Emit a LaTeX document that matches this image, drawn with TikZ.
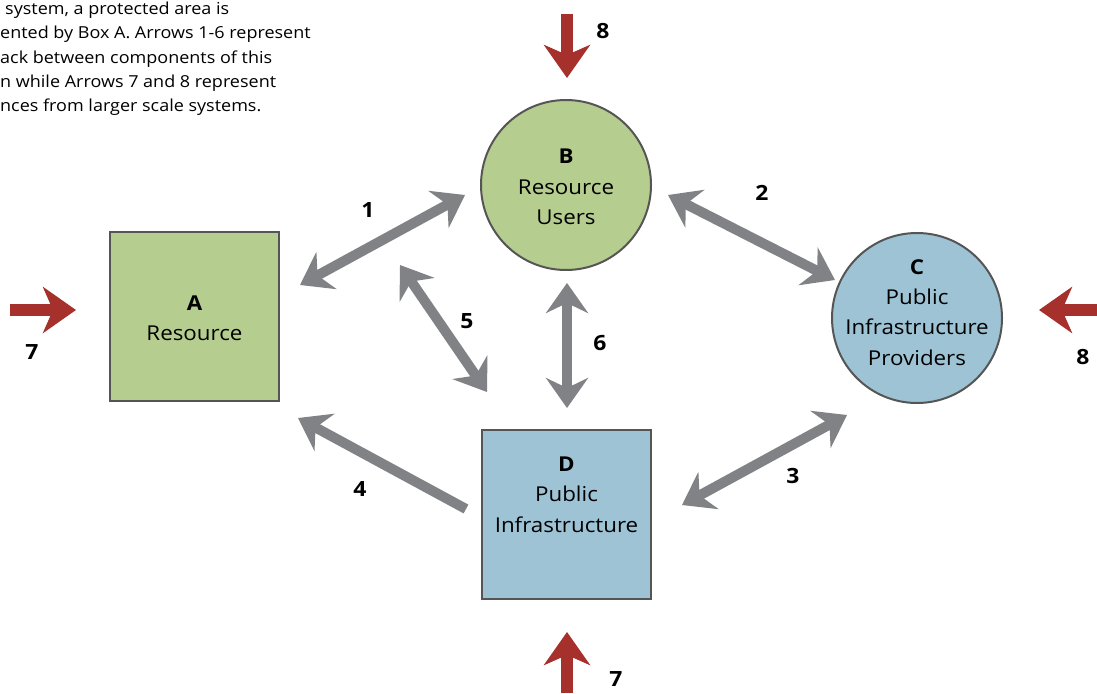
\documentclass[tikz,border=0pt]{standalone}
\usepackage{fontspec}
\setmainfont{Open Sans}[FakeStretch=1.09]
\usetikzlibrary{arrows.meta}
\definecolor{boxgreen}{RGB}{181,205,142}
\definecolor{boxblue}{RGB}{157,195,213}
\definecolor{edgegray}{RGB}{85,85,85}
\definecolor{arrgray}{RGB}{128,130,133}
\definecolor{arrred}{RGB}{166,48,44}
\tikzset{
  comp/.style={draw=edgegray, line width=2pt, inner sep=0pt},
  sqbox/.style={comp, rectangle, minimum width=169pt, minimum height=169pt},
  circbox/.style={comp, circle, minimum size=170pt},
  comptext/.style={align=center, inner sep=0pt, text=black,
    font=\fontsize{20.5}{30.3}\selectfont},
  link/.style={draw=arrgray, line width=10pt,
    -{Stealth[length=30pt,width=42pt,inset=10pt]}},
  dlink/.style={draw=arrgray, line width=10pt,
    {Stealth[length=30pt,width=42pt,inset=10pt]}-{Stealth[length=30pt,width=42pt,inset=10pt]}},
  ext/.style={draw=arrred, line width=12pt,
    -{Stealth[length=33pt,width=46pt,inset=10pt]}},
  num/.style={font=\fontsize{21}{24}\selectfont\bfseries, inner sep=0pt},
}
\begin{document}
\begin{tikzpicture}[x=1pt,y=-1pt]
\useasboundingbox (0,0) rectangle (1097,693);
% caption text (cropped)
\node[anchor=north west, align=left, inner sep=0pt,
  font=\fontsize{16.5}{24.4}\selectfont, text=black] (cap) at (0,1.5)
  {\hspace*{5pt}system, a protected area is\\
   ented by Box A. Arrows 1-6 represent\\
   ack between components of this\\
   n while Arrows 7 and 8 represent\\
   nces from larger scale systems.};
% components
\node[sqbox, fill=boxgreen] (A) at (194.5,316.5) {};
\node[circbox, fill=boxgreen] (B) at (566,185) {};
\node[circbox, fill=boxblue] (C) at (917,318) {};
\node[sqbox, fill=boxblue] (D) at (566.5,514.5) {};
\node[comptext] (At) at (194.5,318) {\textbf{A}\\Resource};
\node[comptext] (Bt) at (566,187) {\textbf{B}\\Resource\\Users};
\node[comptext] (Ct) at (917,312.5) {\textbf{C}\\Public\\Infrastructure\\Providers};
\node[comptext] (Dt) at (566.5,494.5) {\textbf{D}\\Public\\Infrastructure};
% arrow end points
\coordinate (a1s) at (300,285); \coordinate (a1e) at (465,195);
\coordinate (a2s) at (668,195); \coordinate (a2e) at (835,280);
\coordinate (a3s) at (682,505); \coordinate (a3e) at (847,415);
\coordinate (a4s) at (466,509); \coordinate (a4e) at (298,418);
\coordinate (a5s) at (400,265); \coordinate (a5e) at (487,392);
\coordinate (a6s) at (567,283); \coordinate (a6e) at (567,408);
\draw[dlink] (a1s) -- (a1e);
\draw[dlink] (a2s) -- (a2e);
\draw[dlink] (a3s) -- (a3e);
\draw[link] (a4s) -- (a4e);
\draw[dlink] (a5s) -- (a5e);
\draw[dlink] (a6s) -- (a6e);
\node[num] (n1) at (368,210) {1};
\node[num] (n2) at (762,193) {2};
\node[num] (n3) at (793,476) {3};
\node[num] (n4) at (360,489) {4};
\node[num] (n5) at (467,321) {5};
\node[num] (n6) at (600,343) {6};
% external drivers
\coordinate (e7ls) at (10,310);   \coordinate (e7le) at (76,310);
\coordinate (e8ts) at (567,14);   \coordinate (e8te) at (567,78);
\coordinate (e7bs) at (567,693);  \coordinate (e7be) at (567,632);
\coordinate (e8rs) at (1097,310); \coordinate (e8re) at (1039,310);
\draw[ext] (e7ls) -- (e7le);
\draw[ext] (e8ts) -- (e8te);
\draw[ext] (e7bs) -- (e7be);
\draw[ext] (e8rs) -- (e8re);
\node[num] (n7l) at (32,352) {7};
\node[num] (n8t) at (603,31) {8};
\node[num] (n7b) at (616,679) {7};
\node[num] (n8r) at (1083,357) {8};
\end{tikzpicture}
\end{document}
